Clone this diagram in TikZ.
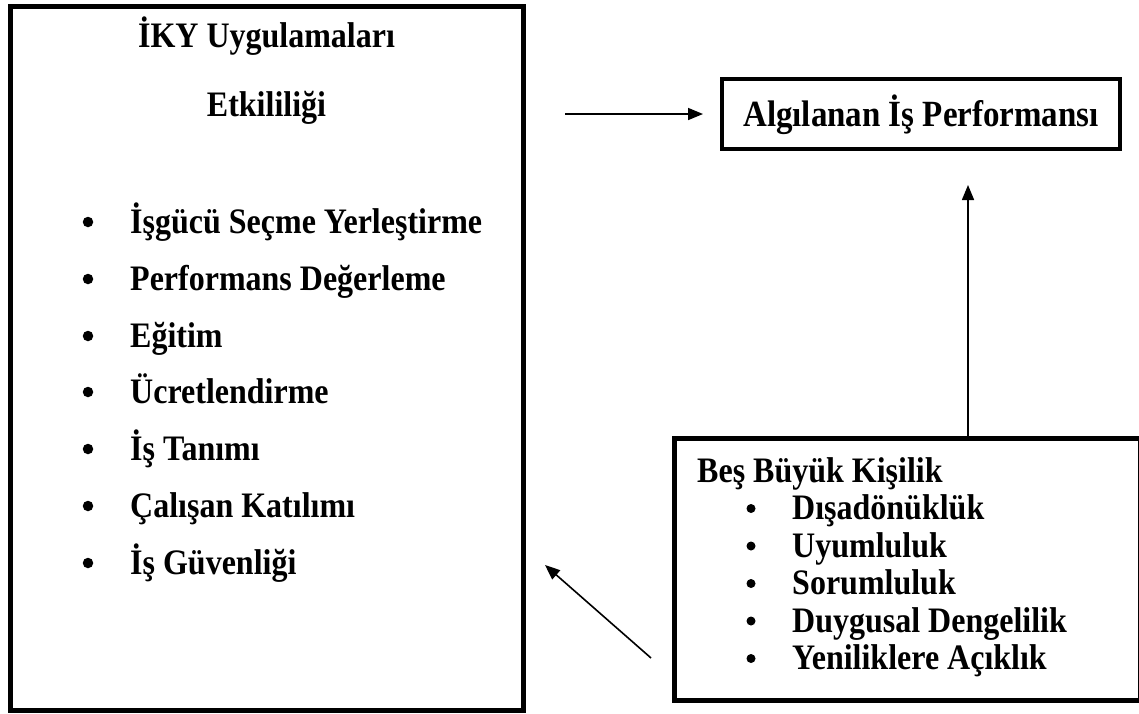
\documentclass[tikz,border=0pt]{standalone}
\usepackage{fontspec}
\setmainfont{Liberation Serif}
\usetikzlibrary{arrows.meta}
\tikzset{
  frame/.style={draw=black, line width=#1, fill=none},
  tall/.style={transform shape, yscale=1.12},
  txt/.style={font=\bfseries\fontsize{32}{38}\selectfont, inner sep=0pt, anchor=base west, tall},
  ctxt/.style={font=\bfseries\fontsize{32}{38}\selectfont, inner sep=0pt, anchor=base, tall},
  bul/.style={circle, fill=black, inner sep=0pt, minimum size=#1},
  conn/.style={line width=1.6pt, -{Triangle[length=15pt,width=12pt]}}
}
\begin{document}
\begin{tikzpicture}[x=1pt,y=-1pt]
\useasboundingbox (0,0) rectangle (1139,713);
\fill[white] (0,0) rectangle (1139,713);
% left box
\draw[frame=5pt] (10,6.5) rectangle (523,710.5);
\node[ctxt] (t1) at (266.5,47) {İKY Uygulamaları};
\node[ctxt] (t2) at (266.5,116) {Etkililiği};
\foreach \i/\t [count=\k] in {233/İşgücü Seçme Yerleştirme,290/Performans Değerleme,347/Eğitim,403/Ücretlendirme,460/İş Tanımı,517/Çalışan Katılımı,574/İş Güvenliği}{
  \node[bul=10.5pt] (lb\k) at (88,\i-11) {};
  \node[txt] (li\k) at (130,\i) {\t};
}
% top right box
\node[draw, line width=4pt, minimum width=398pt, minimum height=70pt, inner sep=0pt] (alg) at (921,114) {};
\node[ctxt, font=\bfseries\fontsize{33}{39}\selectfont] (algt) at (921,126) {Algılanan İş Performansı};
% bottom right box
\draw[frame=5pt] (674,438) rectangle (1140.5,700);
\coordinate (bbtop) at (968,438);
\node[txt] (b0) at (697,482) {Beş Büyük Kişilik};
\foreach \i/\t [count=\k] in {519.5/Dışadönüklük,557/Uyumluluk,594.5/Sorumluluk,632/Duygusal Dengelilik,669.5/Yeniliklere Açıklık}{
  \node[bul=9pt] (rb\k) at (751,\i-11) {};
  \node[txt] (ri\k) at (792,\i) {\t};
}
% arrows
\coordinate (h0) at (565,114);
\draw[conn] (h0) -- ([xshift=-17pt]alg.west);
\coordinate (v1) at (968,185);
\draw[conn] (bbtop) -- (v1);
\coordinate (d0) at (651,658);
\coordinate (d1) at (545,565);
\draw[conn] (d0) -- (d1);
\end{tikzpicture}
\end{document}
